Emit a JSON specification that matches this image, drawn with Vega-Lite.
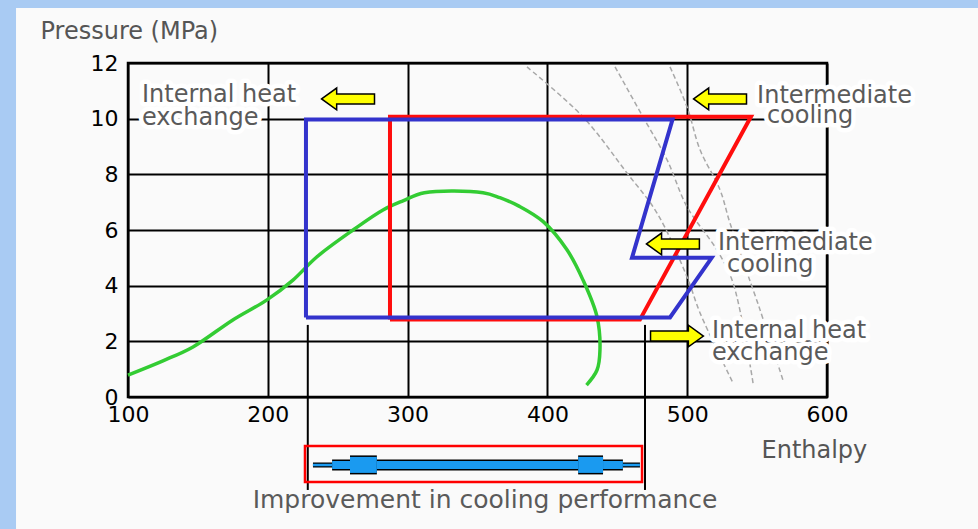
{
  "$schema": "https://vega.github.io/schema/vega-lite/v6.json",
  "width": 699,
  "height": 334,
  "autosize": {"type": "none"},
  "padding": {"left": 128, "top": 63, "right": 151, "bottom": 132},
  "background": "#fafafa",
  "config": {
    "view": {"stroke": "#000000", "strokeWidth": 2.5},
    "text": {"font": "DejaVu Sans"}
  },
  "datasets": {
    "frame": [
      {"part": "left strip", "h": 0, "h2": 19.9, "p": 15, "p2": -6},
      {"part": "top strip", "h": 0, "h2": 720, "p": 15, "p2": 13.98}
    ],
    "isotherms": [
      {"line": "A", "step": 1, "h": 385.4, "p": 11.86},
      {"line": "A", "step": 2, "h": 425.5, "p": 10.06},
      {"line": "A", "step": 3, "h": 456.9, "p": 8.05},
      {"line": "A", "step": 4, "h": 478.4, "p": 6.61},
      {"line": "A", "step": 5, "h": 499.9, "p": 4.31},
      {"line": "A", "step": 6, "h": 509.2, "p": 3.02},
      {"line": "A", "step": 7, "h": 532.8, "p": 0.5},
      {"line": "B", "step": 1, "h": 448.4, "p": 11.86},
      {"line": "B", "step": 2, "h": 468.4, "p": 10.06},
      {"line": "B", "step": 3, "h": 485.6, "p": 8.52},
      {"line": "B", "step": 4, "h": 499.9, "p": 6.83},
      {"line": "B", "step": 5, "h": 521.3, "p": 5.28},
      {"line": "B", "step": 6, "h": 532.8, "p": 4.1},
      {"line": "B", "step": 7, "h": 547.1, "p": 0.5},
      {"line": "C", "step": 1, "h": 487.7, "p": 11.86},
      {"line": "C", "step": 2, "h": 499.9, "p": 10.42},
      {"line": "C", "step": 3, "h": 509.2, "p": 8.88},
      {"line": "C", "step": 4, "h": 523.5, "p": 7.44},
      {"line": "C", "step": 5, "h": 530.6, "p": 6.25},
      {"line": "C", "step": 6, "h": 552.1, "p": 3.13},
      {"line": "C", "step": 7, "h": 568.5, "p": 0.61}
    ],
    "dome": [
      {"step": 1, "h": 100, "p": 0.79},
      {"step": 2, "h": 125, "p": 1.3},
      {"step": 3, "h": 146.5, "p": 1.8},
      {"step": 4, "h": 175, "p": 2.77},
      {"step": 5, "h": 199.4, "p": 3.49},
      {"step": 6, "h": 218, "p": 4.2},
      {"step": 7, "h": 235, "p": 5.03},
      {"step": 8, "h": 261, "p": 6.0},
      {"step": 9, "h": 282.4, "p": 6.72},
      {"step": 10, "h": 296.7, "p": 7.05},
      {"step": 11, "h": 312, "p": 7.34},
      {"step": 12, "h": 354, "p": 7.34},
      {"step": 13, "h": 366, "p": 7.16},
      {"step": 14, "h": 380, "p": 6.85},
      {"step": 15, "h": 397, "p": 6.3},
      {"step": 16, "h": 414, "p": 5.29},
      {"step": 17, "h": 425.5, "p": 4.2},
      {"step": 18, "h": 435.5, "p": 2.88},
      {"step": 19, "h": 437.6, "p": 1.69},
      {"step": 20, "h": 435.5, "p": 0.97},
      {"step": 21, "h": 428, "p": 0.43}
    ],
    "cycles": [
      {"cycle": "Conventional", "step": 1, "h": 287.4, "p": 2.78},
      {"cycle": "Conventional", "step": 2, "h": 287.4, "p": 10.07},
      {"cycle": "Conventional", "step": 3, "h": 545.6, "p": 10.07},
      {"cycle": "Conventional", "step": 4, "h": 466.2, "p": 2.78},
      {"cycle": "Conventional", "step": 5, "h": 287.4, "p": 2.78},
      {"cycle": "Improved", "step": 1, "h": 227.3, "p": 2.86},
      {"cycle": "Improved", "step": 2, "h": 227.3, "p": 9.97},
      {"cycle": "Improved", "step": 3, "h": 489.5, "p": 9.97},
      {"cycle": "Improved", "step": 4, "h": 460.5, "p": 5.0},
      {"cycle": "Improved", "step": 5, "h": 517.5, "p": 5.0},
      {"cycle": "Improved", "step": 6, "h": 487.7, "p": 2.86},
      {"cycle": "Improved", "step": 7, "h": 227.3, "p": 2.86}
    ],
    "guides": [
      {"h": 228.6, "p": 2.59, "p2": -3.34},
      {"h": 469.8, "p": 2.59, "p2": -3.34}
    ],
    "box": [
      {"h": 226.6, "h2": 467.7, "p": -1.76, "p2": -3.05}
    ],
    "improvement": [
      {"part": "tip", "h": 232.3, "h2": 466.2, "p": -2.44},
      {"part": "shaft", "h": 246, "h2": 454, "p": -2.44},
      {"part": "block", "h": 258.8, "h2": 278, "p": -2.44},
      {"part": "block", "h": 422, "h2": 439.8, "p": -2.44}
    ],
    "arrows": [
      {"dir": "left", "h": 257.4, "p": 10.71},
      {"dir": "left", "h": 523.5, "p": 10.71},
      {"dir": "left", "h": 489.8, "p": 5.5},
      {"dir": "right", "h": 492.7, "p": 2.19}
    ],
    "labels": [
      {"text": "Internal heat", "h": 110, "p": 10.6},
      {"text": "exchange", "h": 110, "p": 9.77},
      {"text": "Intermediate", "h": 550, "p": 10.55},
      {"text": "cooling", "h": 557, "p": 9.85},
      {"text": "Intermediate", "h": 522, "p": 5.28},
      {"text": "cooling", "h": 528.5, "p": 4.49},
      {"text": "Internal heat", "h": 517.7, "p": 2.12},
      {"text": "exchange", "h": 517.7, "p": 1.33}
    ],
    "caption": [
      {"text": "Improvement in cooling performance", "h": 355.4, "p": -3.99}
    ]
  },
  "encoding": {
    "x": {
      "field": "h",
      "type": "quantitative",
      "scale": {"domain": [100, 600], "nice": false, "zero": false},
      "axis": {
        "values": [100, 200, 300, 400, 500, 600],
        "grid": true,
        "gridColor": "#000000",
        "gridWidth": 2,
        "gridOpacity": 1,
        "domain": false,
        "ticks": false,
        "labelFont": "DejaVu Sans",
        "labelFontSize": 22,
        "labelColor": "#000000",
        "labelPadding": 7,
        "labelFlush": false,
        "labelOverlap": false,
        "title": "Enthalpy",
        "titleFont": "DejaVu Sans",
        "titleFontSize": 24,
        "titleFontWeight": "normal",
        "titleColor": "#555555",
        "titleAlign": "left",
        "titleBaseline": "alphabetic",
        "titleAnchor": "start",
        "titleX": 633,
        "titleY": 60
      }
    },
    "y": {
      "field": "p",
      "type": "quantitative",
      "scale": {"domain": [0, 12], "nice": false, "zero": false},
      "axis": {
        "values": [0, 2, 4, 6, 8, 10, 12],
        "grid": true,
        "gridColor": "#000000",
        "gridWidth": 2,
        "gridOpacity": 1,
        "domain": false,
        "ticks": false,
        "labelFont": "DejaVu Sans",
        "labelFontSize": 22,
        "labelColor": "#000000",
        "labelPadding": 10,
        "labelOverlap": false,
        "title": "Pressure (MPa)",
        "titleFont": "DejaVu Sans",
        "titleFontSize": 24,
        "titleFontWeight": "normal",
        "titleColor": "#555555",
        "titleAngle": 0,
        "titleAlign": "left",
        "titleBaseline": "alphabetic",
        "titleX": -88,
        "titleY": -25
      }
    }
  },
  "layer": [
    {
      "data": {"name": "frame"},
      "mark": {"type": "rect", "fill": "#a9cbf3", "strokeWidth": 0},
      "encoding": {"x2": {"field": "h2"}, "y2": {"field": "p2"}}
    },
    {
      "data": {"name": "isotherms"},
      "mark": {"type": "line", "color": "#a8a8a8", "strokeWidth": 1.5, "strokeDash": [5, 3], "interpolate": "catmull-rom"},
      "encoding": {"detail": {"field": "line"}, "order": {"field": "step", "type": "quantitative"}}
    },
    {
      "data": {"name": "dome"},
      "mark": {"type": "line", "color": "#33cc33", "strokeWidth": 3.5, "interpolate": "catmull-rom"},
      "encoding": {"order": {"field": "step", "type": "quantitative"}}
    },
    {
      "data": {"name": "cycles"},
      "transform": [{"filter": "datum.cycle === 'Conventional'"}],
      "mark": {"type": "line", "color": "#ff0d0d", "strokeWidth": 4, "strokeJoin": "miter"},
      "encoding": {"order": {"field": "step", "type": "quantitative"}}
    },
    {
      "data": {"name": "cycles"},
      "transform": [{"filter": "datum.cycle === 'Improved'"}],
      "mark": {"type": "line", "color": "#3333cc", "strokeWidth": 4, "strokeJoin": "miter"},
      "encoding": {"order": {"field": "step", "type": "quantitative"}}
    },
    {
      "data": {"name": "guides"},
      "mark": {"type": "rule", "color": "#000000", "strokeWidth": 2},
      "encoding": {"y2": {"field": "p2"}}
    },
    {
      "data": {"name": "box"},
      "mark": {"type": "rect", "fill": null, "fillOpacity": 0, "stroke": "#ff0000", "strokeWidth": 2.5},
      "encoding": {"x2": {"field": "h2"}, "y2": {"field": "p2"}}
    },
    {
      "data": {"name": "improvement"},
      "transform": [{"filter": "datum.part === 'tip'"}],
      "mark": {"type": "rule", "color": "#000000", "strokeWidth": 5},
      "encoding": {"x2": {"field": "h2"}}
    },
    {
      "data": {"name": "improvement"},
      "transform": [{"filter": "datum.part === 'tip'"}],
      "mark": {"type": "rule", "color": "#1a9af0", "strokeWidth": 2.5},
      "encoding": {"x2": {"field": "h2"}}
    },
    {
      "data": {"name": "improvement"},
      "transform": [{"filter": "datum.part === 'shaft'"}],
      "mark": {"type": "rule", "color": "#000000", "strokeWidth": 11},
      "encoding": {"x2": {"field": "h2"}}
    },
    {
      "data": {"name": "improvement"},
      "transform": [{"filter": "datum.part === 'shaft'"}],
      "mark": {"type": "rule", "color": "#1a9af0", "strokeWidth": 8},
      "encoding": {"x2": {"field": "h2"}}
    },
    {
      "data": {"name": "improvement"},
      "transform": [{"filter": "datum.part === 'block'"}],
      "mark": {"type": "rule", "color": "#000000", "strokeWidth": 19},
      "encoding": {"x2": {"field": "h2"}}
    },
    {
      "data": {"name": "improvement"},
      "transform": [{"filter": "datum.part === 'block'"}],
      "mark": {"type": "rule", "color": "#1a9af0", "strokeWidth": 16},
      "encoding": {"x2": {"field": "h2"}}
    },
    {
      "data": {"name": "arrows"},
      "mark": {"type": "point", "filled": true, "fill": "#ffff00", "stroke": "#000000", "strokeWidth": 1.5, "opacity": 1, "size": 2800},
      "encoding": {
        "shape": {
          "field": "dir",
          "type": "nominal",
          "scale": {
            "domain": ["left", "right"],
            "range": [
              "M-1,0 L-0.43,-0.41 L-0.43,-0.19 L1,-0.19 L1,0.19 L-0.43,0.19 L-0.43,0.41 Z",
              "M1,0 L0.43,-0.41 L0.43,-0.19 L-1,-0.19 L-1,0.19 L0.43,0.19 L0.43,0.41 Z"
            ]
          },
          "legend": null
        }
      }
    },
    {
      "data": {"name": "labels"},
      "mark": {"type": "text", "align": "left", "baseline": "alphabetic", "fontSize": 24, "stroke": "#ffffff", "strokeWidth": 9, "strokeJoin": "round", "fill": "#ffffff"},
      "encoding": {"text": {"field": "text"}}
    },
    {
      "data": {"name": "labels"},
      "mark": {"type": "text", "align": "left", "baseline": "alphabetic", "fontSize": 24, "color": "#5a5a5a"},
      "encoding": {"text": {"field": "text"}}
    },
    {
      "data": {"name": "caption"},
      "mark": {"type": "text", "align": "center", "baseline": "alphabetic", "fontSize": 25, "color": "#5a5a5a"},
      "encoding": {"text": {"field": "text"}}
    }
  ]
}
